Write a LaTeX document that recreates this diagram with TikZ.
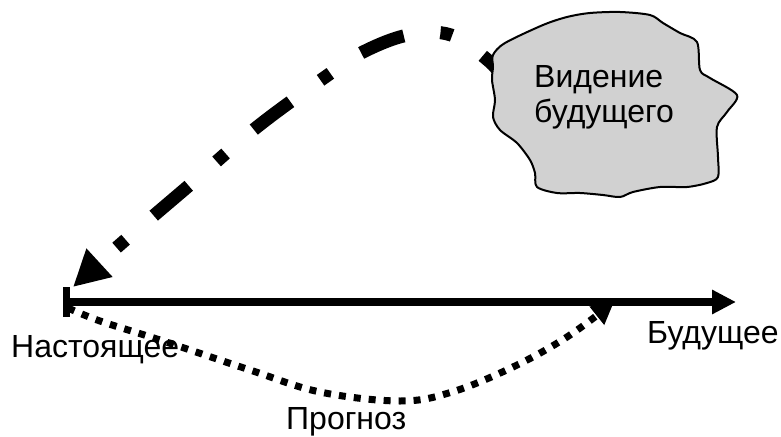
\documentclass[tikz,border=0pt]{standalone}
\usepackage{fontspec}
\setmainfont{Liberation Sans}
\usetikzlibrary{arrows.meta}
\definecolor{blobgray}{gray}{0.82}
\tikzset{
  lbl/.style={font=\fontsize{32}{35}\selectfont, inner sep=0pt, anchor=base west},
  timeline/.style={line width=8pt, -{Triangle[length=24pt,width=23pt]}},
  tickbar/.style={line width=7pt},
  forecast/.style={line width=7pt, dash pattern=on 7pt off 8pt, -{Triangle[length=22pt,width=22pt]}},
  vision/.style={line width=13pt, dash pattern=on 12pt off 37pt on 46pt off 37pt, dash phase=107pt, {Triangle[length=36pt,width=36pt]}-},
  blobshape/.style={draw=black, line width=2pt, fill=blobgray}
}
\begin{document}
\begin{tikzpicture}[x=1pt,y=-1pt]
\useasboundingbox (0,0) rectangle (781,436);
% named coordinates
\coordinate (now) at (63,302);
\coordinate (tickTop) at (66.5,287);
\coordinate (tickBot) at (66.5,317);
\coordinate (futuretip) at (736,302);
\coordinate (fstart) at (68,308);
\coordinate (ftip) at (614,302);
\coordinate (vtip) at (73,287);
\coordinate (vstart) at (502,78);
% timeline
\draw[timeline] (now) -- (futuretip);
\draw[tickbar] (tickTop) -- (tickBot);
% forecast dotted curve
\draw[forecast] plot[smooth, tension=0.6] coordinates {(fstart) (100,321) (160,340) (250,370) (320,392) (400,401) (452,392) (513,367) (567,337) (ftip)};
% vision dash-dot curve
\draw[vision] plot[smooth, tension=0.6] coordinates {(vtip) (123,242) (192,183) (257,127) (328,75) (363,52) (408,35) (451,35) (490,62) (vstart)};
% blob
\path[blobshape] plot[smooth cycle, tension=0.5] coordinates {
(493,55) (505,43) (543,25) (567,17) (590,13) (620,12) (650,15) (663,23) (680,33) (697,42)
(700,70) (710,78) (737,95) (727,112) (717,127) (718,157) (718,177) (707,183) (687,187)
(660,187) (633,192) (620,197) (603,195) (580,193) (557,193) (537,187) (535,173) (530,160)
(517,143) (500,130) (493,117) (495,100) (492,80) (493,67)};
\node[lbl, align=left, anchor=west] (vis) at (534,97) {Видение\\будущего};
% labels
\node[lbl] (lnow) at (11,357) {Настоящее};
\node[lbl] (lfut) at (647,343) {Будущее};
\node[lbl] (lprog) at (286,429) {Прогноз};
\end{tikzpicture}
\end{document}
